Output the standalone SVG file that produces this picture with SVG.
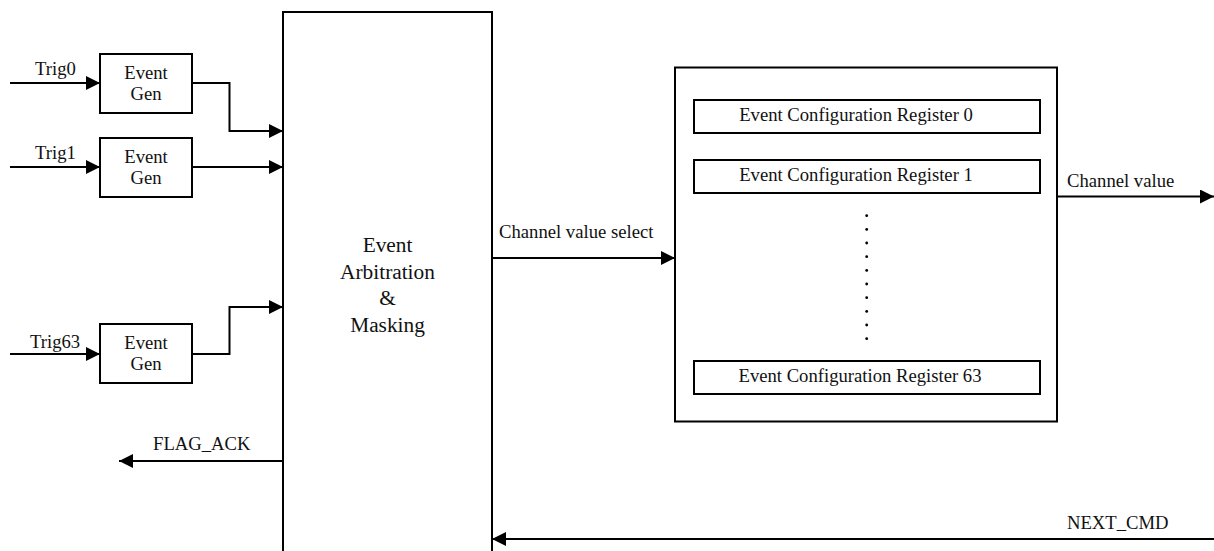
<svg xmlns="http://www.w3.org/2000/svg" width="1214" height="551" viewBox="0 0 1214 551">
<defs>
<style>
.box{fill:#fff;stroke:#000;stroke-width:2}
.ln{fill:none;stroke:#000;stroke-width:2;marker-end:url(#ah)}
.t{font-family:"Liberation Serif","Times New Roman",serif;font-size:18.67px;fill:#111}
.c{text-anchor:middle}
.big{font-size:21.33px}
.dot{fill:#000}
</style>
<marker id="ah" viewBox="0 0 14 14" refX="14" refY="7" markerWidth="14" markerHeight="14" markerUnits="userSpaceOnUse" orient="auto">
<path d="M0,0 L14,7 L0,14 Z" fill="#000"/>
</marker>
</defs>
<rect width="1214" height="551" fill="#fff"/>

<g id="arbiter">
<rect class="box" x="283" y="12" width="209" height="560"/>
<text class="t big c" x="387.5" y="252">Event</text>
<text class="t big c" x="387.5" y="278.5">Arbitration</text>
<text class="t big c" x="387.5" y="305">&amp;</text>
<text class="t big c" x="387.5" y="331.5">Masking</text>
</g>

<g id="gen0">
<rect class="box" x="100" y="54" width="92" height="59"/>
<text class="t c" x="146" y="79">Event</text>
<text class="t c" x="146" y="100">Gen</text>
</g>
<g id="gen1">
<rect class="box" x="100" y="138" width="92" height="59"/>
<text class="t c" x="146" y="163">Event</text>
<text class="t c" x="146" y="184">Gen</text>
</g>
<g id="gen63">
<rect class="box" x="100" y="324" width="92" height="59"/>
<text class="t c" x="146" y="349">Event</text>
<text class="t c" x="146" y="370">Gen</text>
</g>

<g id="config">
<rect class="box" x="675" y="67.5" width="382" height="354"/>
<g id="reg0">
<rect class="box" x="694" y="100" width="346" height="33"/>
<text class="t c" x="856" y="121">Event Configuration Register 0</text>
</g>
<g id="reg1">
<rect class="box" x="694" y="160" width="346" height="33"/>
<text class="t c" x="856" y="181">Event Configuration Register 1</text>
</g>
<g id="reg63">
<rect class="box" x="694" y="361" width="346" height="33"/>
<text class="t c" x="860" y="382">Event Configuration Register 63</text>
</g>
<g id="dots">
<circle class="dot" cx="866.7" cy="215.7" r="1.4"/>
<circle class="dot" cx="866.7" cy="229.4" r="1.4"/>
<circle class="dot" cx="866.7" cy="243" r="1.4"/>
<circle class="dot" cx="866.7" cy="256.7" r="1.4"/>
<circle class="dot" cx="866.7" cy="270.4" r="1.4"/>
<circle class="dot" cx="866.7" cy="284" r="1.4"/>
<circle class="dot" cx="866.7" cy="297.7" r="1.4"/>
<circle class="dot" cx="866.7" cy="311.4" r="1.4"/>
<circle class="dot" cx="866.7" cy="325" r="1.4"/>
<circle class="dot" cx="866.7" cy="338.7" r="1.4"/>
</g>
</g>

<g id="connectors">
<path class="ln" d="M10,83 H100"/>
<path class="ln" d="M10,167 H100"/>
<path class="ln" d="M10,354 H100"/>
<path class="ln" d="M192,83 H229.5 V131 H283"/>
<path class="ln" d="M192,167 H283"/>
<path class="ln" d="M192,354 H229.5 V307 H283"/>
<path class="ln" d="M492,258 H675"/>
<path class="ln" d="M1057,196.5 H1214"/>
<path class="ln" d="M283,461 H119"/>
<path class="ln" d="M1214,539 H492"/>
<text class="t" x="35" y="75">Trig0</text>
<text class="t" x="35" y="159">Trig1</text>
<text class="t" x="30" y="348">Trig63</text>
<text class="t" x="499" y="238">Channel value select</text>
<text class="t" x="1067" y="187">Channel value</text>
<text class="t" x="153" y="450">FLAG_ACK</text>
<text class="t" x="1067" y="529">NEXT_CMD</text>
</g>
</svg>
